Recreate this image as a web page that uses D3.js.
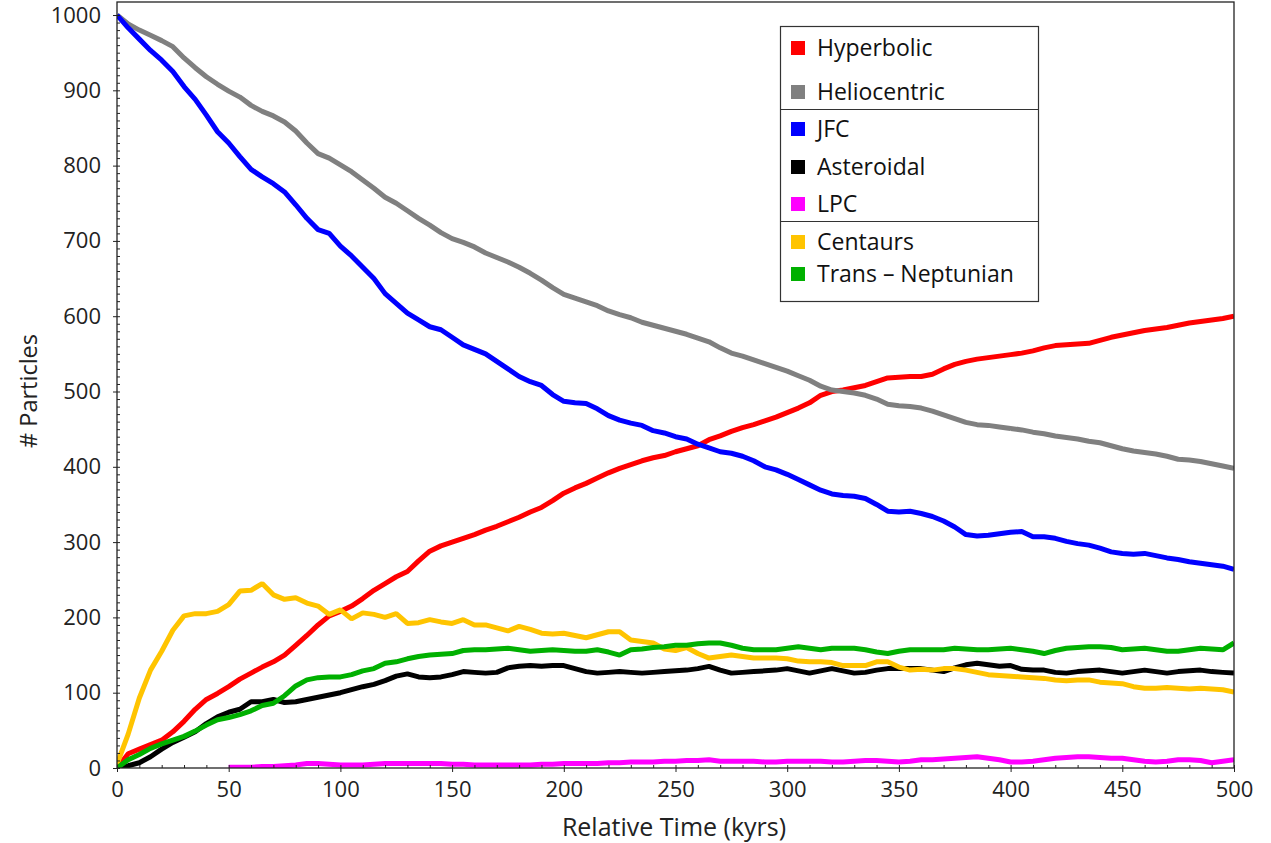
<!DOCTYPE html>
<html><head><meta charset="utf-8">
<script src="https://cdn.jsdelivr.net/npm/d3@7"></script>
<style>body{margin:0;background:#fff}</style>
</head><body><svg id="c" width="1271" height="843"></svg>
<script>
// ---- data (kyr sampled every 5) ----
const times = d3.range(0, 501, 5);
const hyperbolic = [0,19,25,31,37,48,62,78,91,99, 108,118,126,134,141,150,163,176,190,202,
 208,215,225,236,245,254,261,275,288,295, 300,305,310,316,321,327,333,340,346,355,
 365,372,378,385,392,398,403,408,412,415, 420,424,428,436,441,447,452,456,461,466,
 472,478,485,495,500,502,505,508,513,518, 519,520,520,523,530,536,540,543,545,547,
 549,551,554,558,561,562,563,564,568,572, 575,578,581,583,585,588,591,593,595,597, 600];
const heliocentric = [1000,988,980,973,966,958,943,930,918,908, 899,891,880,872,866,858,846,830,816,810,
 801,792,781,770,758,750,740,730,721,711, 703,698,692,684,678,672,665,657,648,638,
 629,624,619,614,607,602,598,592,588,584, 580,576,571,566,558,551,547,542,537,532,
 527,521,515,507,502,500,498,495,490,483, 481,480,478,474,469,464,459,456,455,453,
 451,449,446,444,441,439,437,434,432,428, 424,421,419,417,414,410,409,407,404,401, 398];
const jfc = [1000,983,968,953,940,925,905,888,867,845, 830,812,795,785,776,765,748,730,715,710,
 693,680,665,650,630,617,604,595,586,582, 572,562,556,550,540,530,520,513,508,496,
 487,485,484,477,468,462,458,455,448,445, 440,437,430,425,420,418,414,408,400,396,
 390,383,376,369,364,362,361,358,350,341, 340,341,338,334,328,320,310,308,309,311,
 313,314,307,307,305,301,298,296,292,287, 285,284,285,282,279,277,274,272,270,268, 264];
const asteroidal = [0,3,7,15,25,34,41,48,59,68, 74,78,88,88,91,87,88,91,94,97,
 100,104,108,111,116,122,125,121,120,121, 124,128,127,126,127,133,135,136,135,136,
 136,132,128,126,127,128,127,126,127,128, 129,130,132,135,130,126,127,128,129,130,
 132,129,126,129,132,129,126,127,130,132, 132,132,132,130,128,133,137,139,137,135,
 136,131,130,130,127,126,128,129,130,128, 126,128,130,128,126,128,129,130,128,127, 126];
const lpc = [null,null,null,null,null,null,null,null,null,null, 1,1,1,2,2,3,4,6,6,5,
 4,4,4,5,6,6,6,6,6,6, 5,5,4,4,4,4,4,4,5,5,
 6,6,6,6,7,7,8,8,8,9, 9,10,10,11,9,9,9,9,8,8,
 9,9,9,9,8,8,9,10,10,9, 8,9,11,11,12,13,14,15,13,11,
 8,8,9,11,13,14,15,15,14,13, 13,11,9,8,9,11,11,10,7,9, 11];
const centaurs = [5,45,93,130,155,183,202,205,205,208, 217,235,236,245,230,224,226,219,215,204,
 210,198,206,204,200,205,192,193,197,194, 192,197,190,190,186,182,188,184,179,178,
 179,176,173,177,181,181,170,168,166,158, 156,160,152,146,148,150,148,146,146,146,
 145,142,141,141,140,136,136,136,141,141, 134,130,131,130,132,132,130,127,124,123,
 122,121,120,119,117,116,117,117,114,113, 112,108,106,106,107,106,105,106,105,104, 101];
const transNeptunian = [0,11,18,26,32,37,42,49,57,64, 67,71,76,83,86,96,109,117,120,121,
 121,124,129,132,139,141,145,148,150,151, 152,156,157,157,158,159,157,155,156,157,
 156,155,155,157,154,150,157,158,160,161, 163,163,165,166,166,163,159,157,157,157,
 159,161,159,157,159,159,159,157,154,152, 155,157,157,157,157,159,158,157,157,158,
 159,157,155,152,156,159,160,161,161,160, 157,158,159,157,155,155,157,159,158,157, 166];
const seriesNames = ["Hyperbolic","Heliocentric","JFC","Asteroidal","LPC","Centaurs","Trans \u2013 Neptunian"];
const seriesValues = [hyperbolic, heliocentric, jfc, asteroidal, lpc, centaurs, transNeptunian];
const seriesColors = ["#ff0000","#808080","#0000ff","#000000","#ff00ff","#ffc400","#00b000"];
const xTicks = [0,50,100,150,200,250,300,350,400,450,500];
const yTicks = [0,100,200,300,400,500,600,700,800,900,1000];

// ---- layout ----
const svg = d3.select("#c");
const L = 117, R = 1234, T = 2, B = 768;
const x = d3.scaleLinear().domain([0, 500]).range([L, R]);
const y = d3.scaleLinear().domain([0, 1017.3]).range([B, T]);
const FONT = "'Open Sans', 'Liberation Sans', sans-serif";

svg.append("defs").append("clipPath").attr("id","clip")
  .append("rect").attr("x",L).attr("y",T).attr("width",R-L).attr("height",B-T);

// lines
const g = svg.append("g").attr("clip-path","url(#clip)");
seriesValues.forEach((vals, i) => {
  const line = d3.line()
    .defined(d => d != null)
    .x((d, j) => x(times[j]))
    .y(d => y(d))
    .curve(d3.curveLinear);
  g.append("path")
    .attr("d", line(vals))
    .attr("fill","none")
    .attr("stroke", seriesColors[i])
    .attr("stroke-width", 5)
    .attr("stroke-linejoin","bevel");
});

// frame
svg.append("rect").attr("x",L).attr("y",T).attr("width",R-L).attr("height",B-T)
  .attr("fill","none").attr("stroke","#222").attr("stroke-width",1.3);

// axes: major ticks outward, minor inward
const xAx = svg.append("g").attr("transform",`translate(0,${B})`)
  .call(d3.axisBottom(x).tickValues(xTicks).tickSize(4).tickPadding(9).tickFormat(d3.format("d")));
const xMinor = svg.append("g").attr("transform",`translate(0,${B})`)
  .call(d3.axisTop(x).tickValues(d3.range(0,501,10)).tickSize(3).tickFormat(""));
const yAx = svg.append("g").attr("transform",`translate(${L},0)`)
  .call(d3.axisLeft(y).tickValues(yTicks).tickSize(4).tickPadding(12).tickFormat(d3.format("d")));
const yMinor = svg.append("g").attr("transform",`translate(${L},0)`)
  .call(d3.axisRight(y).tickValues(d3.range(0,1001,10)).tickSize(3).tickFormat(""));
[xAx,xMinor,yAx,yMinor].forEach(a => {
  a.select(".domain").remove();
  a.selectAll("line").attr("stroke","#222").attr("stroke-width",1);
  a.selectAll("text").attr("font-family",FONT).attr("font-size",22).attr("fill","#222");
});

// axis titles
svg.append("text").attr("x",674).attr("y",836).attr("text-anchor","middle")
  .attr("font-family",FONT).attr("font-size",25).attr("fill","#222").text("Relative Time (kyrs)");
svg.append("text").attr("transform","translate(37,391) rotate(-90)").attr("text-anchor","middle")
  .attr("font-family",FONT).attr("font-size",23.5).attr("fill","#222").text("# Particles");

// legend
const lg = svg.append("g");
lg.append("rect").attr("x",780.5).attr("y",26.5).attr("width",258).attr("height",275)
  .attr("fill","#fff").attr("stroke","#333").attr("stroke-width",1.2);
[109.5, 221.5].forEach(yy => lg.append("line").attr("x1",780.5).attr("x2",1038.5)
  .attr("y1",yy).attr("y2",yy).attr("stroke","#333").attr("stroke-width",1.2));
const legendY = [48, 92, 129, 167, 204, 242, 274];
seriesNames.forEach((n, i) => {
  lg.append("rect").attr("x",791).attr("y",legendY[i]-7).attr("width",14).attr("height",14)
    .attr("fill",seriesColors[i]);
  lg.append("text").attr("x",817).attr("y",legendY[i]).attr("dy","0.36em")
    .attr("font-family",FONT).attr("font-size",23).attr("fill","#111").text(n);
});
</script></body></html>
